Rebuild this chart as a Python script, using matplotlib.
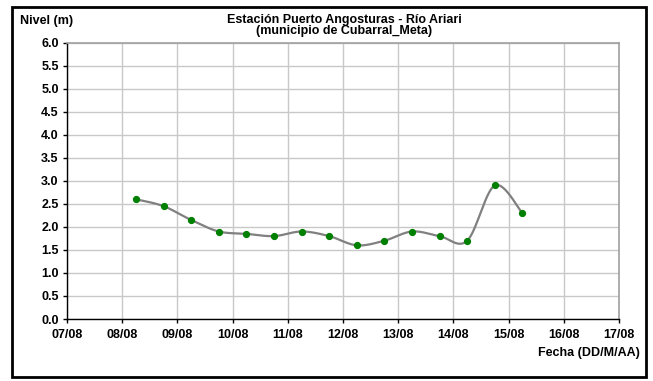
import numpy as np
import matplotlib
matplotlib.use("Agg")
import matplotlib.pyplot as plt
import matplotlib.dates as mdates
from matplotlib.patches import Rectangle
import datetime as dt

plt.rcParams['font.family'] = ['Liberation Sans', 'DejaVu Sans']

# datos: lecturas cada 12 horas (06:00 y 18:00)
fechas = [dt.datetime(2000, 8, 8, 6), dt.datetime(2000, 8, 8, 18),
          dt.datetime(2000, 8, 9, 6), dt.datetime(2000, 8, 9, 18),
          dt.datetime(2000, 8, 10, 6), dt.datetime(2000, 8, 10, 18),
          dt.datetime(2000, 8, 11, 6), dt.datetime(2000, 8, 11, 18),
          dt.datetime(2000, 8, 12, 6), dt.datetime(2000, 8, 12, 18),
          dt.datetime(2000, 8, 13, 6), dt.datetime(2000, 8, 13, 18),
          dt.datetime(2000, 8, 14, 6), dt.datetime(2000, 8, 14, 18),
          dt.datetime(2000, 8, 15, 6)]
nivel = [2.6, 2.45, 2.15, 1.9, 1.85, 1.8, 1.9, 1.8, 1.6, 1.7, 1.9, 1.8, 1.7, 2.9, 2.3]

x_ini = dt.datetime(2000, 8, 7)
x_fin = dt.datetime(2000, 8, 17)


def suavizar(x, y, n=30):
    # curva suave tipo excel (catmull-rom entre los puntos)
    x = np.asarray(x, float)
    y = np.asarray(y, float)
    px = np.concatenate([[x[0]], x, [x[-1]]])
    py = np.concatenate([[y[0]], y, [y[-1]]])
    xs, ys = [], []
    t = np.linspace(0, 1, n)
    for i in range(1, len(px) - 2):
        p0, p1, p2, p3 = (px[i-1], py[i-1]), (px[i], py[i]), (px[i+1], py[i+1]), (px[i+2], py[i+2])
        c1 = (p1[0] + (p2[0] - p0[0]) / 6, p1[1] + (p2[1] - p0[1]) / 6)
        c2 = (p2[0] - (p3[0] - p1[0]) / 6, p2[1] - (p3[1] - p1[1]) / 6)
        bx = (1-t)**3*p1[0] + 3*(1-t)**2*t*c1[0] + 3*(1-t)*t**2*c2[0] + t**3*p2[0]
        by = (1-t)**3*p1[1] + 3*(1-t)**2*t*c1[1] + 3*(1-t)*t**2*c2[1] + t**3*p2[1]
        xs.extend(bx)
        ys.extend(by)
    return np.array(xs), np.array(ys)


W, H = 653, 381
fs = 9
fig = plt.figure(figsize=(W/100, H/100), dpi=100)
ax = fig.add_axes([67/W, 1 - 319/H, (619-67)/W, (319-42.7)/H])

xn = mdates.date2num(fechas)
sx, sy = suavizar(xn, nivel)
ax.plot(sx, sy, color='#808080', lw=1.6, zorder=3)
ax.plot(xn, nivel, 'o', color='#008000', ms=4.2, zorder=4)

ax.set_xlim(x_ini, x_fin)
ax.set_ylim(0, 6)
ax.xaxis.set_major_locator(mdates.DayLocator())
ax.xaxis.set_major_formatter(mdates.DateFormatter('%d/%m'))
ax.set_yticks(np.arange(0, 6.01, 0.5))
ax.yaxis.set_major_formatter(matplotlib.ticker.FormatStrFormatter('%.1f'))
ax.grid(True, color='#c8c8c8', lw=1.0)
ax.set_axisbelow(True)

for s in ['top', 'right']:
    ax.spines[s].set_color('#a0a0a0')
    ax.spines[s].set_linewidth(1.2)
for s in ['left', 'bottom']:
    ax.spines[s].set_color('black')
    ax.spines[s].set_linewidth(1.0)

ax.tick_params(axis='both', direction='out', length=3, width=1, labelsize=fs)
ax.tick_params(axis='x', pad=4)
ax.tick_params(axis='y', pad=3)
for lab in ax.get_xticklabels() + ax.get_yticklabels():
    lab.set_fontweight('bold')

fig.text(20/W, 1 - 21/H, 'Nivel (m)', fontsize=fs, fontweight='bold', va='center', ha='left')
fig.text(344/W, 1 - 20/H, 'Estación Puerto Angosturas - Río Ariari', fontsize=fs,
         fontweight='bold', va='center', ha='center')
fig.text(344/W, 1 - 31/H, '(municipio de Cubarral_Meta)', fontsize=fs,
         fontweight='bold', va='center', ha='center')
fig.text(640/W, 1 - 353/H, 'Fecha (DD/M/AA)', fontsize=fs, fontweight='bold',
         va='center', ha='right')

# marco exterior
fig.patches.append(Rectangle((12/W, 1 - 377/H), (646-12)/W, (377-7)/H,
                             transform=fig.transFigure, fill=False, ec='black', lw=2))

fig.savefig('out.png', dpi=100)
